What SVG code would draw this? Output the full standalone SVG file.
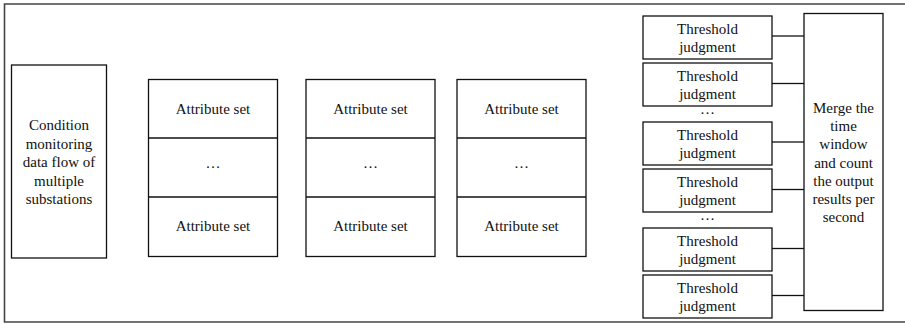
<svg xmlns="http://www.w3.org/2000/svg" width="905" height="323" viewBox="0 0 905 323">
<style>
.box{fill:#fff;stroke:#111;stroke-width:1.3}
.t{font-family:'Liberation Serif','Times New Roman','DejaVu Serif',serif;font-size:15px;fill:#111;text-anchor:middle}
.c{stroke:#111;stroke-width:1.3;fill:none}
</style>
<rect x="0" y="0" width="905" height="323" fill="#fff"/>
<path d="M906 4 H4.5 V322 H906" fill="none" stroke="#444" stroke-width="1.6"/>
<g id="source" font-family="Liberation Serif, serif">
<rect class="box" x="11.5" y="65" width="95" height="193"/>
<text class="t" x="59" y="130">Condition</text>
<text class="t" x="59" y="148.5">monitoring</text>
<text class="t" x="59" y="167">data flow of</text>
<text class="t" x="59" y="185.5">multiple</text>
<text class="t" x="59" y="204">substations</text>
</g>
<g id="attr1">
<rect class="box" x="148.5" y="79.5" width="129" height="177"/>
<line class="c" x1="148.5" y1="138" x2="277.5" y2="138"/>
<line class="c" x1="148.5" y1="197" x2="277.5" y2="197"/>
<text class="t" x="213" y="114">Attribute set</text>
<text class="t" x="213" y="168">…</text>
<text class="t" x="213" y="231">Attribute set</text>
</g>
<g id="attr2">
<rect class="box" x="306" y="79.5" width="129" height="177"/>
<line class="c" x1="306" y1="138" x2="435" y2="138"/>
<line class="c" x1="306" y1="197" x2="435" y2="197"/>
<text class="t" x="370.5" y="114">Attribute set</text>
<text class="t" x="370.5" y="168">…</text>
<text class="t" x="370.5" y="231">Attribute set</text>
</g>
<g id="attr3">
<rect class="box" x="457" y="79.5" width="129" height="177"/>
<line class="c" x1="457" y1="138" x2="586" y2="138"/>
<line class="c" x1="457" y1="197" x2="586" y2="197"/>
<text class="t" x="521.5" y="114">Attribute set</text>
<text class="t" x="521.5" y="168">…</text>
<text class="t" x="521.5" y="231">Attribute set</text>
</g>
<g id="th1">
<rect class="box" x="643" y="16" width="129" height="43"/>
<text class="t" x="707.5" y="33.5">Threshold</text>
<text class="t" x="707.5" y="52">judgment</text>
</g>
<g id="th2">
<rect class="box" x="643" y="63" width="129" height="43"/>
<text class="t" x="707.5" y="80.5">Threshold</text>
<text class="t" x="707.5" y="99">judgment</text>
</g>
<text class="t" x="707.5" y="114">…</text>
<g id="th3">
<rect class="box" x="643" y="122" width="129" height="43"/>
<text class="t" x="707.5" y="139.5">Threshold</text>
<text class="t" x="707.5" y="158">judgment</text>
</g>
<g id="th4">
<rect class="box" x="643" y="169" width="129" height="43"/>
<text class="t" x="707.5" y="186.5">Threshold</text>
<text class="t" x="707.5" y="205">judgment</text>
</g>
<text class="t" x="707.5" y="220">…</text>
<g id="th5">
<rect class="box" x="643" y="228" width="129" height="43"/>
<text class="t" x="707.5" y="245.5">Threshold</text>
<text class="t" x="707.5" y="264">judgment</text>
</g>
<g id="th6">
<rect class="box" x="643" y="275" width="129" height="43"/>
<text class="t" x="707.5" y="292.5">Threshold</text>
<text class="t" x="707.5" y="311">judgment</text>
</g>
<g id="merge">
<rect class="box" x="804" y="13.5" width="79" height="297"/>
<text class="t" x="843.5" y="113">Merge the</text>
<text class="t" x="843.5" y="131.2">time</text>
<text class="t" x="843.5" y="149.4">window</text>
<text class="t" x="843.5" y="167.6">and count</text>
<text class="t" x="843.5" y="185.8">the output</text>
<text class="t" x="843.5" y="204">results per</text>
<text class="t" x="843.5" y="222.2">second</text>
</g>
<g id="connectors">
<line class="c" x1="772" y1="36" x2="804" y2="36"/>
<line class="c" x1="772" y1="83.5" x2="804" y2="83.5"/>
<line class="c" x1="772" y1="142" x2="804" y2="142"/>
<line class="c" x1="772" y1="189.5" x2="804" y2="189.5"/>
<line class="c" x1="772" y1="248.5" x2="804" y2="248.5"/>
<line class="c" x1="772" y1="295.5" x2="804" y2="295.5"/>
</g>
</svg>
